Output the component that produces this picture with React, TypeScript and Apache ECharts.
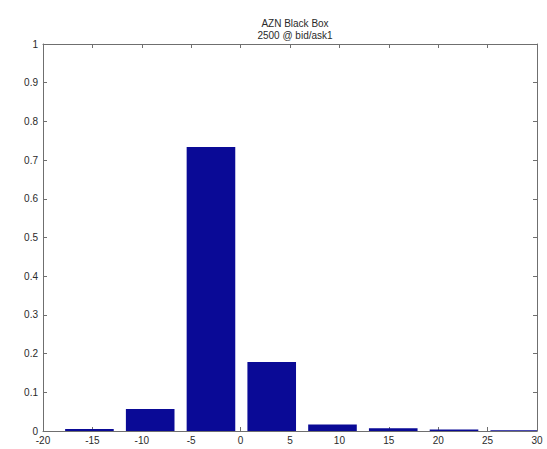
import React, { useEffect, useRef } from "react";
import * as echarts from "echarts";

const TITLE_LINES = ["AZN Black Box", "2500 @ bid/ask1"];
const BIN_CENTERS = [-15.3, -9.15, -3.0, 3.15, 9.3, 15.45, 21.6, 27.75];
const BIN_VALUES = [0.005, 0.057, 0.734, 0.178, 0.017, 0.007, 0.004, 0.002];
const BIN_WIDTH = 6.15;
const BAR_FRACTION = 0.8;
const X_MIN = -20;
const X_MAX = 30;
const X_STEP = 5;
const Y_MIN = 0;
const Y_MAX = 1;
const Y_STEP = 0.1;

const FONT = "'Liberation Sans', Arial, sans-serif";
const LINE = "#6f6f6f";
const TXT = "#2a2a2a";

export default function App() {
  const ref = useRef<HTMLDivElement>(null);
  useEffect(() => {
    document.body.style.margin = "0";
    if (!ref.current) return;
    const chart = echarts.init(ref.current, null, { renderer: "svg" });
    const data = BIN_CENTERS.map((c, i) => [c, BIN_VALUES[i]]);
    const tickCommon = { show: true, inside: true, length: 4, lineStyle: { color: LINE } };
    const lineCommon = { show: true, onZero: false, lineStyle: { color: LINE } };
    chart.setOption({
      animation: false,
      backgroundColor: "#ffffff",
      title: {
        text: TITLE_LINES.join("\n"),
        left: 290,
        textAlign: "center",
        top: 12,
        textStyle: { fontSize: 10, fontWeight: "normal", color: TXT, fontFamily: FONT, lineHeight: 12 },
      },
      grid: { left: 43, right: 10, top: 44, bottom: 18, containLabel: false },
      xAxis: [
        {
          type: "value",
          min: X_MIN,
          max: X_MAX,
          interval: X_STEP,
          position: "bottom",
          splitLine: { show: false },
          axisLine: lineCommon,
          axisTick: tickCommon,
          axisLabel: { color: TXT, fontSize: 10, fontFamily: FONT, margin: 4 },
        },
        {
          type: "value",
          min: X_MIN,
          max: X_MAX,
          interval: X_STEP,
          position: "top",
          splitLine: { show: false },
          axisLine: lineCommon,
          axisTick: tickCommon,
          axisLabel: { show: false },
        },
      ],
      yAxis: [
        {
          type: "value",
          min: Y_MIN,
          max: Y_MAX,
          interval: Y_STEP,
          position: "left",
          splitLine: { show: false },
          axisLine: lineCommon,
          axisTick: tickCommon,
          axisLabel: {
            color: TXT,
            fontSize: 10,
            fontFamily: FONT,
            margin: 5,
            formatter: (v: number) => String(Math.round(v * 10) / 10),
          },
        },
        {
          type: "value",
          min: Y_MIN,
          max: Y_MAX,
          interval: Y_STEP,
          position: "right",
          splitLine: { show: false },
          axisLine: lineCommon,
          axisTick: tickCommon,
          axisLabel: { show: false },
        },
      ],
      series: [
        {
          type: "custom",
          xAxisIndex: 0,
          yAxisIndex: 0,
          data,
          renderItem: (params: any, api: any) => {
            const x = api.value(0);
            const y = api.value(1);
            const half = (BIN_WIDTH * BAR_FRACTION) / 2;
            const p0 = api.coord([x - half, y]);
            const p1 = api.coord([x + half, 0]);
            const rect = echarts.graphic.clipRectByRect(
              { x: p0[0], y: p0[1], width: p1[0] - p0[0], height: p1[1] - p0[1] },
              {
                x: params.coordSys.x,
                y: params.coordSys.y,
                width: params.coordSys.width,
                height: params.coordSys.height,
              }
            );
            if (!rect) return null;
            return { type: "rect", shape: rect, style: { fill: "#0a0a96" } };
          },
          z: 1,
        },
      ],
    });
    return () => chart.dispose();
  }, []);
  return <div ref={ref} style={{ width: 547, height: 449 }} />;
}
